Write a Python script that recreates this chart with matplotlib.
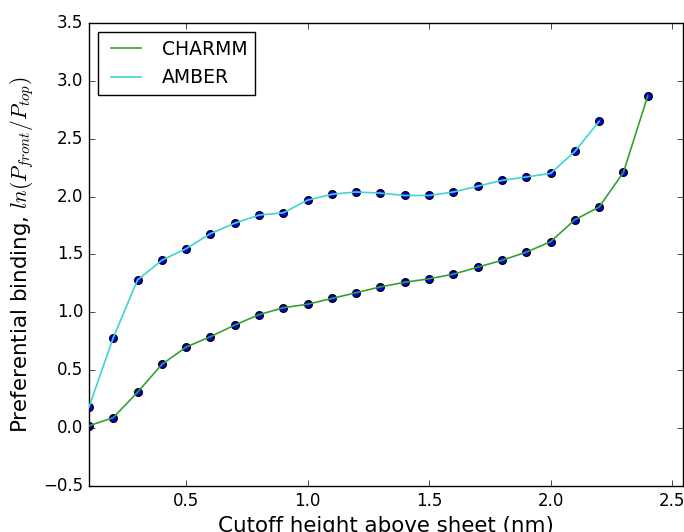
import numpy as np
import matplotlib
matplotlib.use('Agg')
import matplotlib.pyplot as plt

plt.style.use('classic')

# cutoff heights (nm) and ln(P_front/P_top) for each force field
cutoff_charmm = [0.1, 0.2, 0.3, 0.4, 0.5, 0.6, 0.7, 0.8, 0.9, 1.0, 1.1, 1.2,
                 1.3, 1.4, 1.5, 1.6, 1.7, 1.8, 1.9, 2.0, 2.1, 2.2, 2.3, 2.4]
binding_charmm = [0.02, 0.09, 0.31, 0.55, 0.70, 0.79, 0.89, 0.98, 1.04, 1.07, 1.12, 1.17,
                  1.22, 1.26, 1.29, 1.33, 1.39, 1.45, 1.52, 1.61, 1.80, 1.91, 2.21, 2.87]

cutoff_amber = [0.1, 0.2, 0.3, 0.4, 0.5, 0.6, 0.7, 0.8, 0.9, 1.0, 1.1,
                1.2, 1.3, 1.4, 1.5, 1.6, 1.7, 1.8, 1.9, 2.0, 2.1, 2.2]
binding_amber = [0.18, 0.78, 1.28, 1.45, 1.55, 1.68, 1.77, 1.84, 1.86, 1.97, 2.02,
                 2.04, 2.03, 2.01, 2.01, 2.04, 2.09, 2.14, 2.17, 2.20, 2.39, 2.65]

fig = plt.figure(figsize=(6.84, 5.32), dpi=100, facecolor='white')
ax = fig.add_axes([0.130, 0.0865, 0.8685, 0.8703])

ax.scatter(cutoff_charmm, binding_charmm, s=30, c='b', edgecolors='k', zorder=2)
ax.scatter(cutoff_amber, binding_amber, s=30, c='b', edgecolors='k', zorder=2)
ax.plot(cutoff_charmm, binding_charmm, color='#35a035', lw=1.2, label='CHARMM', zorder=3)
ax.plot(cutoff_amber, binding_amber, color='#40d4d4', lw=1.2, label='AMBER', zorder=3)

ax.set_xlim(0.1, 2.545)
ax.set_ylim(-0.5, 3.5)
ax.set_xticks([0.5, 1.0, 1.5, 2.0, 2.5])
ax.tick_params(labelsize=12)

ax.set_xlabel('Cutoff height above sheet (nm)', fontsize=15.4)
ax.set_ylabel(r'Preferential binding, $ln(P_{front}/P_{top})$', fontsize=15.4)

ax.legend(loc='upper left', fontsize=13.5, handlelength=2.2)

fig.savefig('out.png', dpi=100, facecolor='white')
